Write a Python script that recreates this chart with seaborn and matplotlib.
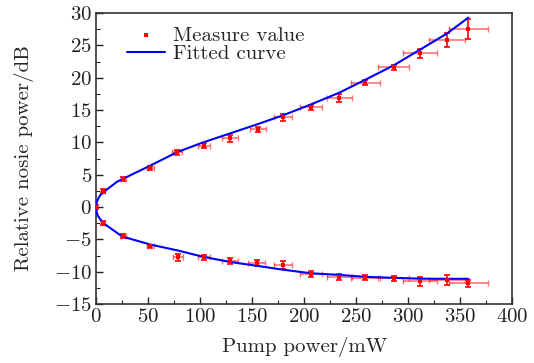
import numpy as np
import pandas as pd
import matplotlib
matplotlib.use("Agg")
import matplotlib.pyplot as plt
from matplotlib.ticker import MultipleLocator
import seaborn as sns

# ---------------- Daten ----------------
# Messwerte, oberer Ast
pump_up = [0, 7, 26, 52, 78, 103.5, 129, 155.5, 180, 207, 234, 259, 286, 311.5, 337.5, 358]
noise_up = [0, 2.5, 4.3, 6.1, 8.45, 9.5, 10.6, 12.0, 13.85, 15.4, 16.9, 19.2, 21.6, 23.75, 25.8, 27.6]
yerr_up = [0.3, 0.3, 0.35, 0.3, 0.4, 0.35, 0.5, 0.4, 0.5, 0.4, 0.6, 0.4, 0.4, 0.65, 1.1, 1.55]

# Messwerte, unterer Ast
pump_low = [7, 26, 52, 78.5, 103.5, 129, 154.5, 180, 207, 234, 259, 286, 311.5, 337.5, 358]
noise_low = [-2.5, -4.5, -6.1, -7.8, -7.8, -8.35, -8.6, -8.95, -10.35, -10.8, -10.9, -11.0, -11.5, -11.3, -11.8]
yerr_low = [0.3, 0.35, 0.3, 0.6, 0.35, 0.4, 0.45, 0.6, 0.4, 0.5, 0.4, 0.4, 0.7, 0.75, 0.5]

# horizontale Fehler (mW), gleiche Reihenfolge wie pump_low
xerr_pts = [1.5, 2.5, 3.5, 5.0, 6.0, 7.5, 8.0, 8.5, 10.6, 12.3, 13.5, 15.0, 16.0, 17.3, 18.4]

# Fitkurve: unterer Ast (vom Ende zum Scheitel), dann oberer Ast
fit_x = [358, 337, 311, 286, 259, 234, 207, 180, 155, 129, 103, 78, 52, 25, 7, 3.5, 1.3, 0.3,
         0, 0.3, 1.2, 2.7, 4.8, 8.6, 20, 34, 52, 78, 103, 129, 155, 180, 207, 234, 259, 286, 311, 337, 358]
fit_y = [-11.1, -11.1, -11.08, -10.95, -10.8, -10.5, -10.25, -9.7, -9.1, -8.5, -7.7, -6.7, -5.8, -4.55, -2.5, -1.8, -1.25, -0.6,
         0, 0.55, 1.0, 1.5, 2.0, 2.5, 3.9, 5.0, 6.4, 8.5, 10.0, 11.4, 12.8, 14.2, 15.9, 17.7, 19.7, 21.9, 24.3, 26.8, 29.3]

# ---------------- Stil ----------------
sns.set_style("ticks")
plt.rcParams['font.family'] = 'serif'
plt.rcParams['font.serif'] = ['cmr10']
plt.rcParams['mathtext.fontset'] = 'cm'
plt.rcParams['axes.formatter.use_mathtext'] = True
plt.rcParams['axes.unicode_minus'] = True

FS = 15

fig = plt.figure(figsize=(5.34, 3.63), dpi=100)
ax = fig.add_axes([0.18, 0.1625, 0.779, 0.8015])

fit_df = pd.DataFrame({"x": fit_x, "y": fit_y})
sns.lineplot(data=fit_df, x="x", y="y", sort=False, estimator=None, color="#0000ff",
             linewidth=1.5, ax=ax, label="Fitted curve", zorder=3)

red = "#ff0000"
for px, py, ye, xe in [(pump_up, noise_up, yerr_up, [0] + xerr_pts),
                       (pump_low, noise_low, yerr_low, xerr_pts)]:
    ax.errorbar(px, py, xerr=xe, fmt="none", ecolor=red, alpha=0.55,
                elinewidth=1.2, capsize=2.5, capthick=1.0, zorder=2)
    ax.errorbar(px, py, yerr=ye, fmt="none", ecolor=red,
                elinewidth=1.2, capsize=2.5, capthick=1.2, zorder=2)

pts = pd.DataFrame({"x": pump_up + pump_low, "y": noise_up + noise_low})
sns.scatterplot(data=pts, x="x", y="y", marker="s", s=8, color=red, edgecolor=red,
                linewidth=0, ax=ax, label="Measure value", zorder=4)

ax.set_xlim(0, 400)
ax.set_ylim(-15, 30)
ax.xaxis.set_major_locator(MultipleLocator(50))
ax.xaxis.set_minor_locator(MultipleLocator(25))
ax.yaxis.set_major_locator(MultipleLocator(5))
ax.yaxis.set_minor_locator(MultipleLocator(2.5))
ax.tick_params(which="both", direction="in", top=False, right=False, labelsize=FS, colors="#222222")
ax.tick_params(which="major", length=5, width=1.0, pad=3)
ax.tick_params(which="minor", length=3, width=0.8)
for sp in ax.spines.values():
    sp.set_linewidth(1.2)
    sp.set_color("#333333")

ax.set_xlabel("Pump power/mW", fontsize=FS, labelpad=8)
ax.set_ylabel("Relative nosie power/dB", fontsize=FS, labelpad=14)

handles, labels = ax.get_legend_handles_labels()
order = [labels.index("Measure value"), labels.index("Fitted curve")]
ax.legend([handles[i] for i in order], [labels[i] for i in order], loc="upper left",
          bbox_to_anchor=(0.035, 1.012), frameon=False, fontsize=FS, handlelength=1.8,
          handletextpad=0.4, labelspacing=0.0, scatterpoints=1, borderpad=0.3)

fig.savefig("out.png", dpi=100)
